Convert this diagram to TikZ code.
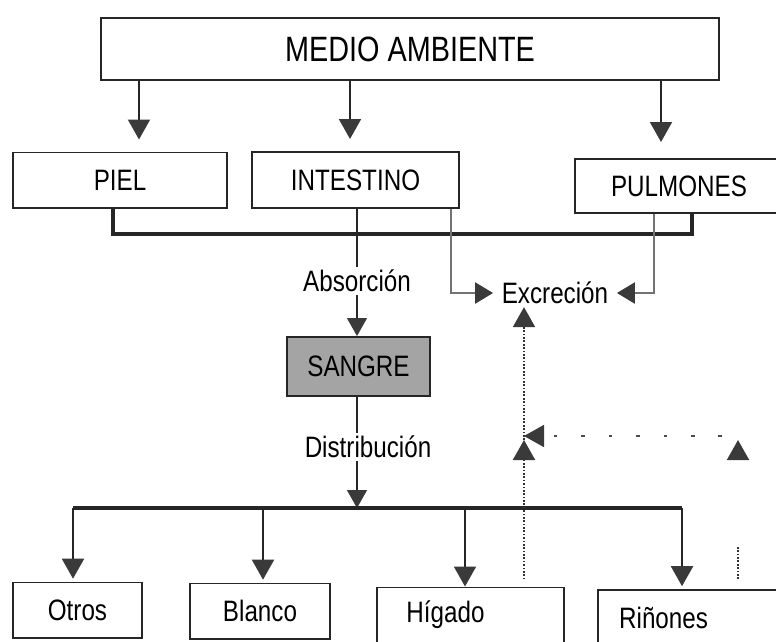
\documentclass[tikz,border=0pt]{standalone}
\usepackage{fontspec}
\setmainfont{Liberation Sans}[FakeStretch=0.82]
\usetikzlibrary{arrows.meta,positioning}
\definecolor{tipgray}{HTML}{3A3A3A}
\definecolor{bloodgray}{HTML}{A4A4A4}
\newcommand{\boxfont}{\fontsize{21}{25}\selectfont}
\newcommand{\titlefont}{\fontsize{25}{30}\selectfont}

\begin{document}
\begin{tikzpicture}[
    x=0.025cm, y=-0.025cm,
    box/.style={rectangle, draw=black!85, line width=1.4pt, fill=white, minimum height=1.375cm, inner sep=0pt, font=\boxfont},
    tag/.style={inner sep=2pt, font=\boxfont},
    arrow/.style={-{Triangle[length=0.5cm,width=0.55cm,color=tipgray]}, draw=black!85, line width=1.4pt},
    bar/.style={draw=black!85, line width=2.4pt},
    thinline/.style={draw=black!85, line width=0.9pt},
    thinarrow/.style={thinline, -{Triangle[length=0.45cm,width=0.5cm,color=tipgray]}},
    grayarrow/.style={-{Triangle[length=0.45cm,width=0.52cm,color=tipgray]}, draw=black!55, line width=2pt},
    dotline/.style={draw=black!80, line width=1.4pt, dash pattern=on 1.2pt off 1.2pt},
    dotarrow/.style={dotline, -{Triangle[length=0.5cm,width=0.55cm,color=tipgray]}},
    dasharrow/.style={draw=black!70, line width=1.3pt, dash pattern=on 2.5pt off 17pt, -{Triangle[length=0.5cm,width=0.55cm,color=tipgray]}}
]
    \useasboundingbox (0,0) rectangle (776,641);

    % Top box
    \node[box, minimum width=15.45cm, minimum height=1.55cm, font=\titlefont] (medio) at (410,49) {MEDIO AMBIENTE};

    % Entry organs
    \node[box, minimum width=5.35cm] (piel) at (120,180) {PIEL};
    \node[box, minimum width=5.175cm, minimum height=1.4cm] (intestino) at (355.5,180) {INTESTINO};
    \node[box, minimum width=5.2cm, minimum height=1.35cm] (pulmones) at (679,186) {PULMONES};

    % Middle
    \node[tag] (absorcion) at (357,281) {Absorción};
    \node[tag, inner xsep=6pt] (excrecion) at (555,293) {Excreción};
    \node[box, fill=bloodgray, minimum width=3.575cm, minimum height=1.475cm] (sangre) at (358.5,366.5) {SANGRE};
    \node[tag] (distribucion) at (368,447) {Distribución};

    % Target organs
    \node[box, minimum width=3.225cm] (otros) at (77.5,610) {Otros};
    \node[box, minimum width=3.5cm] (blanco) at (260,611) {Blanco};
    \node[box, minimum width=4.675cm, label={[font=\boxfont, xshift=-0.625cm]center:Hígado}] (higado) at (470.5,615) {};
    \node[box, minimum width=5cm, label={[font=\boxfont, xshift=-0.86cm]center:Riñones}] (rinones) at (698,617.5) {};

    % Helper coordinates
    \coordinate (xa) at (139,0);
    \coordinate (xb) at (350,0);
    \coordinate (xc) at (661,0);
    \coordinate (xp) at (113,0);
    \coordinate (xq) at (692,0);
    \coordinate (yb) at (0,234);
    \coordinate (xi) at (451,0);
    \coordinate (xr) at (654,0);
    \coordinate (xs) at (357,0);
    \coordinate (yd) at (0,508);
    \coordinate (xo) at (73,0);
    \coordinate (xbl) at (263,0);
    \coordinate (xh) at (465,0);
    \coordinate (xk) at (682,0);
    \coordinate (xd) at (524,0);
    \coordinate (cruce) at (524,440);
    \coordinate (rend) at (722,436);
    \coordinate (xm) at (738,0);
    \coordinate (gapend) at (738,547);
    \coordinate (tipR) at (738,440);

    % Arrows from the environment
    \draw[arrow, shorten >=0.3cm] (medio.south -| xa) -- (xa |- piel.north);
    \draw[arrow, shorten >=0.3cm] (medio.south -| xb) -- (xb |- intestino.north);
    \draw[arrow, shorten >=0.4cm] (medio.south -| xc) -- (xc |- pulmones.north);

    % Collecting line
    \draw[bar] (piel.south -| xp) -- (xp |- yb) -- (xq |- yb) -- (pulmones.south -| xq);

    % Absorption
    \draw[thinline] (intestino.south -| absorcion) -- (absorcion.north);
    \draw[thinarrow] (absorcion.south) -- (absorcion.south |- sangre.north);

    % Excretion
    \draw[grayarrow] (intestino.south -| xi) |- (excrecion.west);
    \draw[grayarrow] (pulmones.south -| xr) |- (excrecion.east);

    % Distribution
    \draw[thinline] (sangre.south -| xs) -- (xs |- distribucion.north);
    \draw[thinarrow] (xs |- distribucion.south) -- (xs |- yd);
    \draw[bar] (xo |- yd) -- (xk |- yd);
    \draw[arrow, shorten >=2pt] (xo |- yd) -- (xo |- otros.north);
    \draw[arrow, shorten >=2pt] (xbl |- yd) -- (xbl |- blanco.north);
    \draw[arrow] (xh |- yd) -- (xh |- higado.north);
    \draw[arrow, shorten >=2pt] (xk |- yd) -- (xk |- rinones.north);

    % Dotted returns
    \draw[dotarrow, shorten <=0.18cm] (xd |- higado.north) -- (cruce);
    \draw[dotarrow] (cruce) -- (xd |- excrecion.south);
    \draw[dasharrow] (rend) -- (cruce |- rend);
    \draw[dotline, shorten <=0.25cm] (xm |- rinones.north) -- (gapend);
    \draw[dotarrow] ([yshift=-0.45cm]tipR) -- (tipR);

\end{tikzpicture}
\end{document}
